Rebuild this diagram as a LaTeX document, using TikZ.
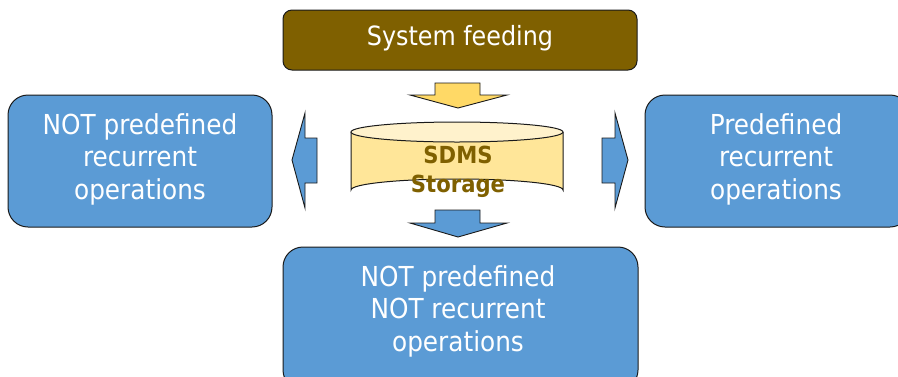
\documentclass[tikz,border=0pt]{standalone}
\usepackage{fontspec}
\setmainfont{DejaVu Sans Condensed}
\definecolor{feedbrown}{HTML}{7F6000}
\definecolor{opblue}{HTML}{5B9BD5}
\definecolor{arrowgold}{HTML}{FFD966}
\definecolor{drumbody}{HTML}{FFE699}
\definecolor{drumtop}{HTML}{FFF2CC}
\definecolor{edge}{HTML}{1A1A1A}
\tikzset{
  opbox/.style={draw=edge, line width=1pt, fill=opblue, rounded corners=20pt},
  optext/.style={text=white, align=center, font=\fontsize{27.5}{32.5}\selectfont},
  blockarrow/.style={draw=edge, line width=0.9pt, line join=miter},
}
\begin{document}
\begin{tikzpicture}[x=1pt, y=-1pt]
\useasboundingbox (0,0) rectangle (898,376);
\clip (0,0) rectangle (898,376);

% source box
\draw[draw=edge, line width=1pt, fill=feedbrown, rounded corners=9pt] (283,10) rectangle (637,70);
\node[text=white, font=\fontsize{26.5}{30}\selectfont] (feed) at (460,38) {System feeding};

% arrow from the source into the storage
\draw[blockarrow, fill=arrowgold] (435,83) -- (480,83) -- (480,95) -- (507,95) -- (458,108)
  -- (410,95) -- (435,95) -- cycle;

% storage drum
\draw[draw=edge, line width=1pt, fill=drumbody]
  (351,132) -- (351,190) arc[start angle=180, end angle=360, x radius=106, y radius=11]
  -- (563,132);
\draw[draw=edge, line width=1pt, fill=drumtop] (457,132) ellipse[x radius=106, y radius=10];
\node[text=feedbrown, align=center, font=\bfseries\fontsize{23.5}{29}\selectfont] (store) at (458,172) {SDMS\\Storage};

% arrows out of the storage
\draw[blockarrow, fill=opblue] (317,138) -- (305,138) -- (305,113) -- (292,160) -- (305,208)
  -- (305,183) -- (317,183) -- cycle;
\draw[blockarrow, fill=opblue] (602,138) -- (615,138) -- (615,113) -- (628,160) -- (615,208)
  -- (615,183) -- (602,183) -- cycle;
\draw[blockarrow, fill=opblue] (435,210) -- (480,210) -- (480,223) -- (507,223) -- (458,237)
  -- (410,223) -- (435,223) -- cycle;

% operation boxes
\draw[opbox] (8,95) rectangle (272,227);
\node[optext] (left) at (140,159) {NOT predefined\\recurrent\\operations};

\draw[opbox] (645,95) rectangle (910,227);
\node[optext] (right) at (776,159) {Predefined\\recurrent\\operations};

\draw[opbox] (283,247) rectangle (638,390);
\node[optext] (bottom) at (458,311) {NOT predefined\\NOT recurrent\\operations};
\end{tikzpicture}
\end{document}
